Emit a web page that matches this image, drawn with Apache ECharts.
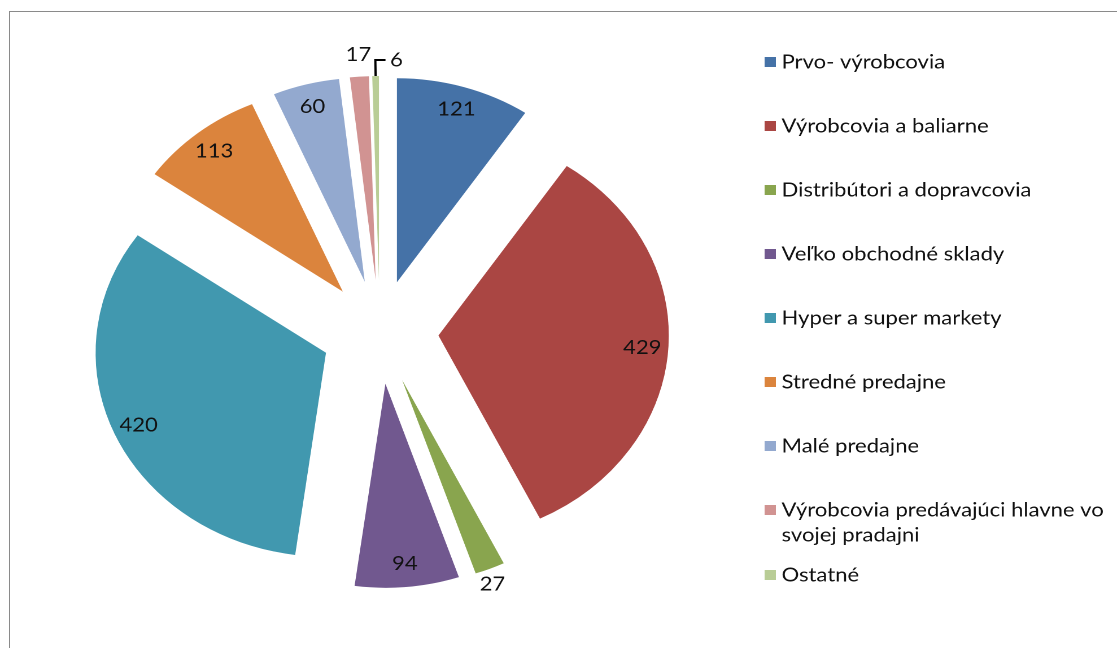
<!DOCTYPE html>
<html><head><meta charset="utf-8">
<script src="https://cdn.jsdelivr.net/npm/echarts@6/dist/echarts.min.js"></script>
<style>
html,body{margin:0;padding:0;width:1117px;height:648px;overflow:hidden;background:#fff;}
#frame{position:absolute;left:9px;top:11px;width:1200px;height:700px;border:1px solid #8a8a8a;box-sizing:border-box;}
#chart{position:absolute;left:0;top:0;width:989px;height:648px;transform:scaleX(1.1294);transform-origin:0 0;}
</style></head><body>
<div id="frame"></div><div id="chart"></div>
<script>
const categories = ['Prvo- výrobcovia','Výrobcovia a baliarne','Distribútori a dopravcovia','Veľko obchodné sklady','Hyper a super markety','Stredné predajne','Malé predajne','Výrobcovia predávajúci hlavne vo svojej pradajni','Ostatné'];
const values = [121, 429, 27, 94, 420, 113, 60, 17, 6];
const colors = ['#4572A7','#AA4643','#89A54E','#71588F','#4198AF','#DB843D','#93A9CF','#D19392','#B9CD96'];

const FONT = 'Lato';
const FS = 19.5;
const total = values.reduce((a, b) => a + b, 0);
const mids = [];
let cum = 0;
values.forEach(v => { mids.push((cum + v / 2) / total * 2 * Math.PI); cum += v; });

const center = [336.3, 332];
const R = 204;
const OFF = 52;

const mainData = categories.map((name, i) => {
  const v = values[i];
  const outside = v < 30;
  const top = Math.cos(mids[i]) > 0;
  const withLine = v < 10;
  return {
    name, value: v, selected: true,
    itemStyle: { color: colors[i] },
    label: { show: outside, distanceToLabelLine: withLine ? -4 : 0 },
    labelLine: withLine
      ? { show: true, length: 16, length2: -9, minTurnAngle: 0, lineStyle: { color: '#000', width: 2 } }
      : { show: false, length: top ? 12 : 6, length2: 0 }
  };
});

const labelData = categories.map((name, i) => ({
  name, value: values[i], selected: true,
  label: { show: values[i] >= 30 }
}));

const legendText = { fontFamily: FONT, fontSize: FS, color: '#111', lineHeight: 22 };

const chart = echarts.init(document.getElementById('chart'), null, { renderer: 'canvas', devicePixelRatio: 2 });
chart.setOption({
  animation: false,
  legend: [
    { orient: 'vertical', left: 677, top: 51, padding: 0, itemWidth: 10, itemHeight: 10, itemGap: 42, icon: 'rect',
      selectedMode: false, data: categories.slice(0, 7), textStyle: legendText },
    { orient: 'vertical', left: 677, top: 472.5, padding: 0, itemWidth: 10, itemHeight: 10, icon: 'rect',
      selectedMode: false, data: categories.slice(7, 8),
      formatter: n => '\u200b\n' + n.replace(' svojej', '\nsvojej'),
      textStyle: Object.assign({}, legendText, { lineHeight: 25 }) },
    { orient: 'vertical', left: 677, top: 564, padding: 0, itemWidth: 10, itemHeight: 10, icon: 'rect',
      selectedMode: false, data: categories.slice(8), textStyle: legendText }
  ],
  series: [
    {
      type: 'pie', center, radius: R, startAngle: 90, clockwise: true,
      selectedMode: 'multiple', selectedOffset: OFF, avoidLabelOverlap: false,
      silent: true, emphasis: { disabled: true },
      label: { position: 'outside', color: '#111', fontFamily: FONT, fontSize: FS, formatter: '{c}' },
      labelLayout: function (p) {
        const i = p.dataIndex;
        const v = values[i];
        if (v >= 30) return {};
        if (v < 10) return { align: 'left' };
        return { align: 'center', verticalAlign: Math.cos(mids[i]) > 0 ? 'bottom' : 'top' };
      },
      data: mainData
    },
    {
      type: 'pie', center, radius: [152, R], startAngle: 90, clockwise: true,
      selectedMode: 'multiple', selectedOffset: OFF, avoidLabelOverlap: false,
      silent: true, emphasis: { disabled: true },
      itemStyle: { color: 'rgba(0,0,0,0)' },
      label: { position: 'inside', color: '#111', fontFamily: FONT, fontSize: FS, formatter: '{c}' },
      labelLine: { show: false },
      data: labelData
    }
  ]
});
</script>
</body></html>
